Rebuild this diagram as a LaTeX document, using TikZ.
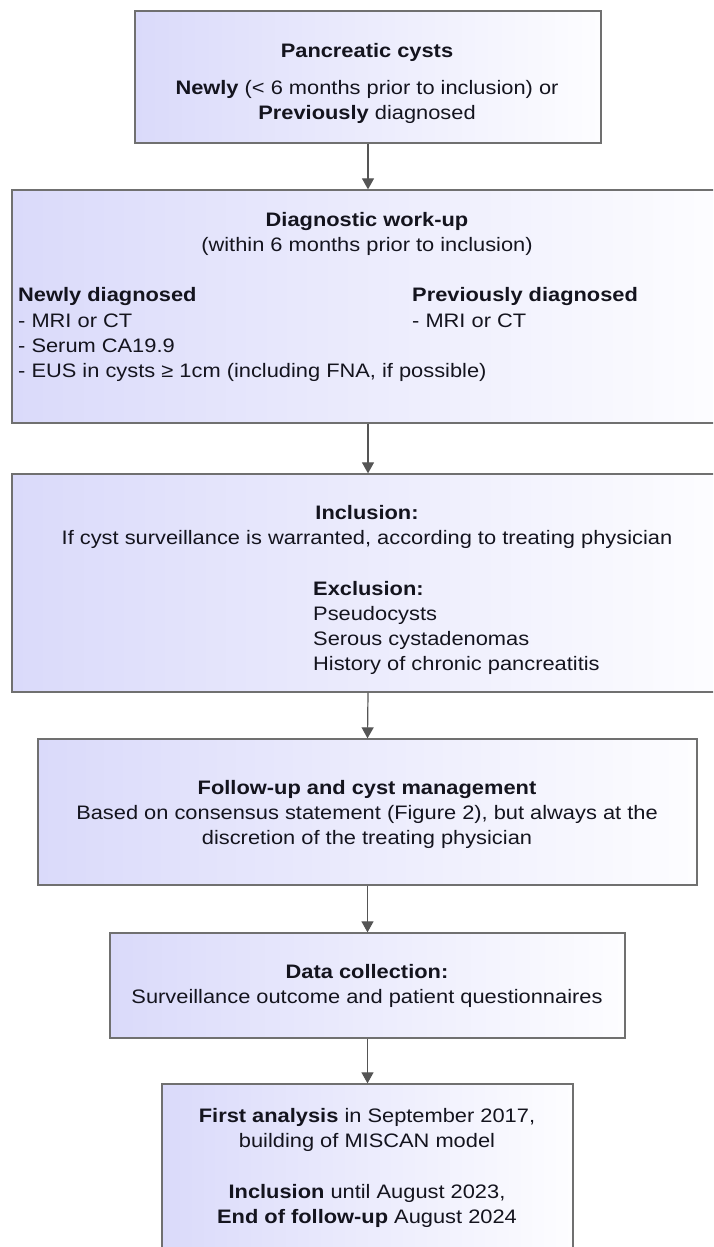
\documentclass[tikz,border=0pt]{standalone}
\usepackage{fontspec}
\setmainfont[FakeStretch=1.12]{Liberation Sans}
\usetikzlibrary{arrows.meta}
\definecolor{boxleft}{RGB}{218,218,250}
\definecolor{boxright}{RGB}{253,253,255}
\definecolor{boxline}{RGB}{112,112,112}
\definecolor{arrowcol}{RGB}{85,85,85}
\definecolor{txt}{RGB}{20,20,30}
\begin{document}
\begin{tikzpicture}[x=1pt,y=-1pt,
  box/.style={draw=boxline, line width=1.3pt, left color=boxleft, right color=boxright, rectangle, inner sep=0pt},
  lbl/.style={inner sep=0pt, anchor=base, text=txt, font=\fontsize{19.5}{25}\selectfont},
  lbll/.style={lbl, anchor=base west},
  flow/.style={draw=arrowcol, line width=1.2pt, -{Triangle[width=12pt,length=11pt]}}]
\useasboundingbox (0,0) rectangle (713,1247);
\clip (0,0) rectangle (713,1247);
% boxes
\node[box, minimum width=466pt, minimum height=132pt] (b1) at (368,77) {};
\node[box, minimum width=712pt, minimum height=233pt] (b2) at (368,306.5) {};
\node[box, minimum width=712pt, minimum height=218pt] (b3) at (368,583) {};
\node[box, minimum width=659pt, minimum height=146pt] (b4) at (367.5,812) {};
\node[box, minimum width=515pt, minimum height=105pt] (b5) at (367.5,985.5) {};
\node[box, minimum width=411pt, minimum height=181pt] (b6) at (367.5,1174.5) {};
% arrows
\draw[flow] (b1.south) -- (b2.north);
\draw[flow] (b2.south) -- (b3.north);
\draw[flow] (b3.south) -- (b4.north);
\draw[flow] (b4.south) -- (b5.north);
\draw[flow] (b5.south) -- (b6.north);
% box 1
\node[lbl] (t1a) at (367,57) {\textbf{Pancreatic cysts}};
\node[lbl] (t1b) at (367,94.5) {\textbf{Newly} (< 6 months prior to inclusion) or};
\node[lbl] (t1c) at (367,119.5) {\textbf{Previously} diagnosed};
% box 2
\node[lbl] (t2a) at (367,226) {\textbf{Diagnostic work-up}};
\node[lbl] (t2b) at (367,251) {(within 6 months prior to inclusion)};
\node[lbll] (t2c) at (18,301) {\textbf{Newly diagnosed}};
\node[lbll] (t2d) at (18,327) {- MRI or CT};
\node[lbll] (t2e) at (18,352) {- Serum CA19.9};
\node[lbll] (t2f) at (18,377) {- EUS in cysts ≥ 1cm (including FNA, if possible)};
\node[lbll] (t2g) at (412,301) {\textbf{Previously diagnosed}};
\node[lbll] (t2h) at (412,327) {- MRI or CT};
% box 3
\node[lbl] (t3a) at (367,519) {\textbf{Inclusion:}};
\node[lbl] (t3b) at (367,544) {If cyst surveillance is warranted, according to treating physician};
\node[lbll] (t3c) at (313,595) {\textbf{Exclusion:}};
\node[lbll] (t3d) at (313,620) {Pseudocysts};
\node[lbll] (t3e) at (313,645) {Serous cystadenomas};
\node[lbll] (t3f) at (313,670) {History of chronic pancreatitis};
% box 4
\node[lbl] (t4a) at (367,794) {\textbf{Follow-up and cyst management}};
\node[lbl] (t4b) at (367,819) {Based on consensus statement (Figure 2), but always at the};
\node[lbl] (t4c) at (367,844) {discretion of the treating physician};
% box 5
\node[lbl] (t5a) at (367,978) {\textbf{Data collection:}};
\node[lbl] (t5b) at (367,1003) {Surveillance outcome and patient questionnaires};
% box 6
\node[lbl] (t6a) at (367,1122) {\textbf{First analysis} in September 2017,};
\node[lbl] (t6b) at (367,1147) {building of MISCAN model};
\node[lbl] (t6c) at (367,1198) {\textbf{Inclusion} until August 2023,};
\node[lbl] (t6d) at (367,1223) {\textbf{End of follow-up} August 2024};
\end{tikzpicture}
\end{document}
